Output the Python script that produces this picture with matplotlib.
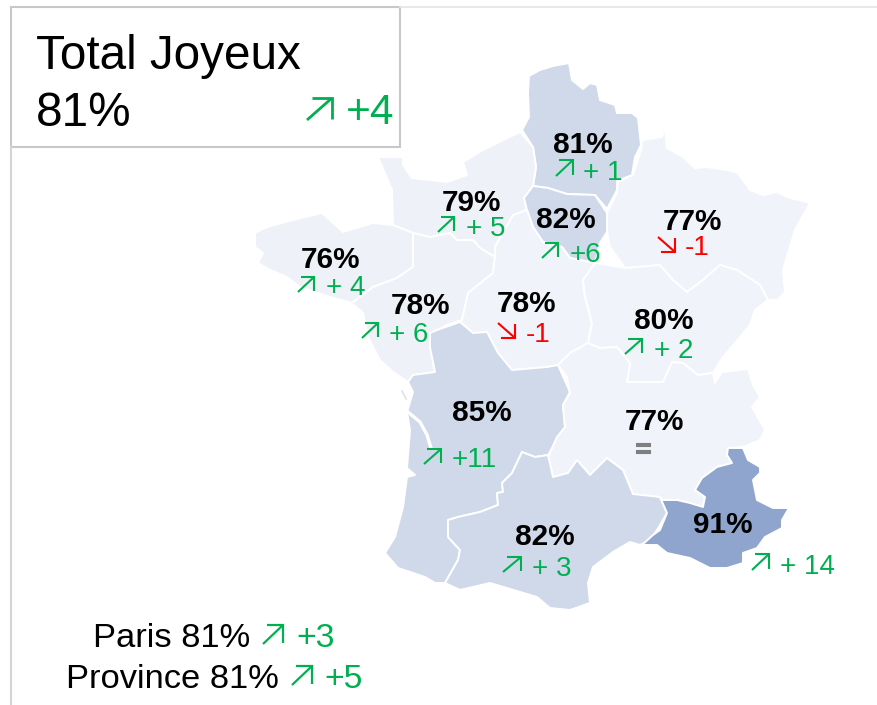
from matplotlib import pyplot as plt
from matplotlib.patches import Polygon
import matplotlib.patheffects as pe

plt.rcParams['font.family'] = ['Liberation Sans', 'DejaVu Sans']

GREEN = '#00B050'
RED = '#FF0000'
LIGHT = '#EEF1F8'
MID = '#D0D9EA'
DARK = '#8FA5CE'

# region values
regions = ['Nord', 'Normandie', 'IdF', 'Est', 'Bretagne', 'Loire', 'Centre', 'Bourgogne',
           'Aquitaine', 'Rhone', 'Occitanie', 'Paca']
pcts = [81, 79, 82, 77, 76, 78, 78, 80, 85, 77, 82, 91]
deltas = ['+ 1', '+ 5', '+6', '-1', '+ 4', '+ 6', '-1', '+ 2', '+11', '=', '+ 3', '+ 14']

# outlines, traced in pixels of the reference
nord = [(569, 63), (553, 66), (540, 70), (529, 76), (528, 93), (529, 117), (522, 130), (533, 147), (536, 167),
        (533, 186), (548, 188), (567, 194), (595, 195), (607, 209), (617, 190), (617, 181), (632, 175), (635, 157),
        (641, 145), (638, 118), (632, 113), (617, 113), (615, 105), (600, 100), (597, 85), (590, 83), (583, 89),
        (572, 80)]
idf = [(524, 198), (533, 186), (548, 188), (567, 194), (595, 195), (607, 213), (607, 232), (600, 243), (595, 263),
       (570, 258), (562, 247), (543, 242), (533, 227), (527, 210)]
est = [(665, 127), (662, 137), (642, 140), (641, 150), (633, 175), (618, 182), (617, 193), (607, 213), (607, 232),
       (610, 247), (625, 268), (660, 265), (673, 280), (687, 292), (703, 280), (720, 265), (737, 270), (760, 285),
       (768, 300), (778, 300), (785, 292), (783, 270), (795, 230), (810, 203), (787, 197), (777, 192), (763, 195),
       (750, 190), (738, 173), (727, 170), (707, 167), (695, 168), (683, 157), (667, 148)]
bourgogne = [(595, 263), (625, 268), (660, 265), (673, 280), (687, 292), (703, 280), (720, 265), (737, 270),
             (760, 285), (768, 300), (755, 310), (750, 325), (735, 343), (723, 357), (713, 373), (698, 375),
             (683, 363), (672, 362), (663, 382), (647, 382), (627, 382), (630, 363), (617, 347), (600, 348),
             (588, 343), (592, 323), (585, 297), (583, 280)]
rhone = [(558, 365), (570, 353), (588, 343), (600, 348), (617, 347), (630, 363), (627, 382), (647, 382), (663, 382),
         (672, 362), (683, 363), (698, 375), (713, 373), (715, 383), (722, 372), (748, 369), (753, 385), (760, 397),
         (752, 407), (765, 430), (760, 440), (743, 447), (728, 448), (727, 455), (732, 463), (717, 467), (702, 478),
         (695, 490), (705, 497), (703, 507), (690, 503), (677, 500), (663, 500), (660, 497), (633, 494), (623, 470),
         (607, 458), (590, 475), (577, 460), (568, 473), (553, 477), (548, 457), (557, 437), (565, 427), (563, 405),
         (570, 393), (567, 377)]
aquitaine = [(437, 330), (460, 322), (473, 333), (487, 332), (498, 353), (512, 370), (547, 367), (558, 365),
             (570, 392), (563, 405), (565, 427), (548, 455), (535, 457), (522, 452), (512, 473), (502, 483),
             (503, 492), (497, 493), (498, 505), (480, 512), (458, 517), (448, 520), (448, 537), (460, 550),
             (458, 560), (445, 583), (435, 583), (425, 577), (398, 568), (385, 553), (395, 537), (403, 507),
             (407, 477), (415, 475), (407, 468), (410, 430), (407, 412), (413, 392), (408, 382), (413, 375),
             (435, 372), (430, 347), (430, 333)]
loire = [(352, 303), (373, 287), (397, 278), (413, 267), (413, 233), (430, 237), (450, 233), (457, 240), (473, 240),
         (480, 248), (495, 257), (493, 273), (468, 293), (462, 320), (447, 325), (432, 333), (430, 347), (435, 372),
         (413, 375), (408, 382), (393, 372), (380, 360), (368, 337), (363, 313)]
bretagne = [(255, 233), (267, 227), (293, 220), (322, 213), (343, 232), (373, 223), (393, 225), (413, 233),
            (413, 267), (397, 278), (373, 287), (352, 303), (330, 297), (300, 287), (287, 277), (270, 270),
            (258, 263), (263, 253), (255, 247)]
normandie = [(378, 157), (403, 157), (403, 165), (412, 178), (447, 182), (467, 175), (463, 162), (483, 150),
             (520, 132), (533, 147), (536, 167), (533, 186), (524, 198), (527, 210), (513, 215), (495, 247),
             (495, 257), (480, 248), (473, 240), (457, 240), (450, 233), (430, 237), (413, 233), (393, 225),
             (392, 190)]
centre = [(495, 257), (495, 247), (513, 215), (527, 210), (533, 227), (543, 242), (562, 247), (570, 258), (595, 263),
          (583, 280), (585, 297), (592, 323), (588, 343), (570, 353), (558, 365), (547, 367), (512, 370), (498, 353),
          (487, 332), (473, 333), (460, 322), (462, 320), (468, 293), (493, 273)]
occitanie = [(548, 455), (553, 477), (568, 473), (577, 460), (590, 475), (607, 458), (623, 470), (633, 494),
             (660, 497), (667, 513), (657, 530), (650, 540), (640, 545), (630, 542), (613, 552), (593, 567),
             (588, 583), (590, 603), (570, 610), (550, 608), (537, 597), (490, 583), (460, 590), (445, 583),
             (458, 560), (460, 550), (448, 537), (448, 520), (458, 517), (480, 512), (498, 505), (497, 493),
             (503, 492), (502, 483), (512, 473), (522, 452), (535, 457)]
paca = [(728, 448), (743, 448), (748, 460), (760, 467), (760, 473), (753, 480), (757, 500), (773, 508), (789, 508),
        (782, 520), (782, 528), (765, 537), (757, 548), (743, 553), (743, 563), (727, 568), (710, 568), (690, 558),
        (667, 553), (657, 545), (642, 545), (653, 535), (660, 530), (667, 513), (660, 497), (663, 500), (677, 500),
        (690, 503), (703, 507), (705, 497), (695, 490), (702, 478), (717, 467), (732, 463), (727, 455)]

outlines = [nord, normandie, idf, est, bretagne, loire, centre, bourgogne, aquitaine, rhone, occitanie, paca]
fills = [MID, LIGHT, MID, '#F0F3F9', LIGHT, LIGHT, '#F0F3F9', '#F0F3F9', MID, '#F0F3F9', MID, DARK]

# label anchors: percent centre, arrow box (x0, y0, x1, y1), delta left/baseline
pct_pos = [(583, 145), (471, 203), (566, 220), (692, 222), (331, 260), (421, 306), (526, 304), (664, 321),
           (482, 413), (654, 422), (545, 537), (723, 525)]
arrow_pos = [(556, 176, 573, 160), (438, 232, 454, 217), (542, 258, 558, 243), (658, 237, 675, 252),
             (298, 292, 314, 277), (362, 338, 378, 323), (498, 323, 515, 338), (625, 354, 642, 339),
             (424, 464, 441, 449), None, (503, 572, 521, 557), (752, 570, 769, 554)]
delta_pos = [(583, 180), (466, 236), (570, 262), (685, 255), (326, 295), (389, 342), (526, 342), (654, 358),
             (452, 467), (643, 457), (532, 576), (780, 574)]


def draw_arrow(ax, box, color, lw=1.5):
    # corner of the head sits at (x1, y1)
    x0, y0, x1, y1 = box
    w = x1 - x0
    h = y1 - y0
    ax.plot([x0, x1], [y0, y1], color=color, lw=lw, solid_capstyle='butt', zorder=5)
    ax.plot([x0 + 0.2 * w, x1, x1], [y1, y1, y1 - 0.95 * h], color=color, lw=lw,
            solid_joinstyle='miter', solid_capstyle='butt', zorder=5)


fig = plt.figure(figsize=(8.77, 7.05), dpi=100)
ax = fig.add_axes([0, 0, 1, 1])
ax.set_xlim(0, 877)
ax.set_ylim(705, 0)
ax.axis('off')

# frame lines
ax.plot([400, 877], [7, 7], color='#E4E4E4', lw=1.2)
ax.plot([11, 11], [147, 705], color='#D4D4D4', lw=1.5)
ax.add_patch(Polygon([(11, 7), (400, 7), (400, 147), (11, 147)], closed=True, fc='white', ec='#C8C8C8', lw=1.5))

for outline, fill in zip(outlines, fills):
    ax.add_patch(Polygon(outline, closed=True, fc=fill, ec='white', lw=1.4, joinstyle='round', zorder=2))

# Gironde estuary
ax.plot([408, 420, 427, 431], [412, 422, 435, 448], color='white', lw=2.4, zorder=3)
ax.plot([402, 406], [391, 399], color='#E2E2E2', lw=1.2, zorder=3)

for name, pct, delta, p, a, d in zip(regions, pcts, deltas, pct_pos, arrow_pos, delta_pos):
    ax.text(p[0], p[1], f'{pct}%', fontsize=21.4, fontweight='bold', color='black', ha='center', va='center', zorder=6)
    if delta == '=':
        ax.text(d[0], d[1], delta, fontsize=19, fontweight='bold', color='#7F7F7F', ha='center', va='baseline', zorder=6,
                path_effects=[pe.withStroke(linewidth=0.8, foreground='#7F7F7F')])
        continue
    color = RED if delta.startswith('-') else GREEN
    draw_arrow(ax, a, color)
    ax.text(d[0], d[1], delta, fontsize=20, color=color, ha='left', va='baseline', zorder=6)

# total box
ax.text(36, 69, 'Total Joyeux', fontsize=34.3, color='black', ha='left', va='baseline')
ax.text(36, 126, '81%', fontsize=34.3, color='black', ha='left', va='baseline')
draw_arrow(ax, (307, 120, 332, 98), GREEN, lw=2)
ax.text(346, 124, '+4', fontsize=30.5, color=GREEN, ha='left', va='baseline')

# Paris / Province
ax.text(93, 647, 'Paris 81%', fontsize=24.8, color='black', ha='left', va='baseline')
draw_arrow(ax, (263, 644, 283, 625), GREEN, lw=1.6)
ax.text(296, 647, '+3', fontsize=24.3, color=GREEN, ha='left', va='baseline')
ax.text(66, 688, 'Province 81%', fontsize=24.8, color='black', ha='left', va='baseline')
draw_arrow(ax, (292, 685, 312, 666), GREEN, lw=1.6)
ax.text(324, 688, '+5', fontsize=24.3, color=GREEN, ha='left', va='baseline')

fig.savefig('out.png', dpi=100)
